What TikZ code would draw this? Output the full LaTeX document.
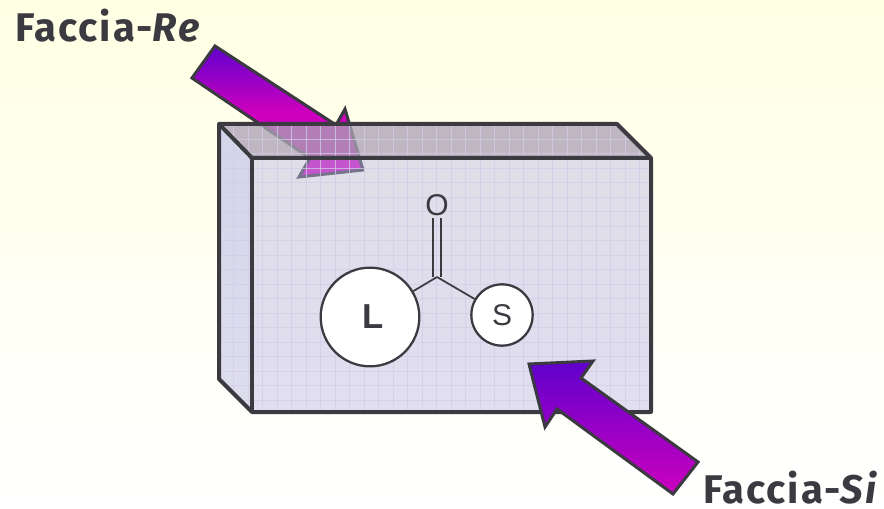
\documentclass[tikz,border=0pt]{standalone}
\usepackage{fontspec}
\setmainfont{Liberation Sans}
\newfontfamily\facefont[LetterSpace=5]{Fira Sans}
\usepackage{xcolor}
\usetikzlibrary{positioning}
\definecolor{inkdark}{RGB}{58,58,64}
\definecolor{gridlilac}{RGB}{209,205,232}
\definecolor{arrowtop}{RGB}{96,0,205}
\definecolor{arrowbottom}{RGB}{205,0,190}
\definecolor{paleyellow}{RGB}{255,255,228}
\definecolor{frontface}{RGB}{188,185,229}
\definecolor{topface}{RGB}{172,162,180}
\definecolor{lefttop}{RGB}{212,212,234}
\definecolor{leftbottom}{RGB}{222,222,238}
\tikzset{
  facearrow/.style={draw=inkdark,line width=2.25pt,line join=miter,top color=arrowtop,bottom color=arrowbottom},
  atomball/.style={circle,draw=inkdark,line width=1.7pt,fill=white,text=inkdark,inner sep=0pt},
  bond/.style={draw=inkdark,line width=1.3pt},
  gridline/.style={draw=gridlilac,draw opacity=0.75,line width=0.55pt},
  facelabel/.style={anchor=base west,inner sep=0pt,text=inkdark,font=\facefont\fontsize{30}{31}\selectfont\bfseries},
  boxedge/.style={draw=inkdark,line width=3pt,line join=round}
}
\begin{document}
\begin{tikzpicture}[x=0.75pt,y=-0.75pt]
\useasboundingbox (0,0) rectangle (884,509);
\shade[top color=paleyellow,bottom color=white] (0,0) rectangle (884,509);
% --- arrow behind the box ---
\path[facearrow,middle color=arrowbottom] (215,46)--(336,125)--(345,109)--(363,170)--(299,177)--(310,158)--(192,78)--cycle;
% --- box faces, see-through ---
\fill[frontface,fill opacity=0.46] (252,158) rectangle (651,412);
\fill[topface,fill opacity=0.78] (219,124)--(617,124)--(651,158)--(252,158)--cycle;
\shade[top color=lefttop,bottom color=leftbottom] (219,124)--(252,158)--(252,412)--(219,379)--cycle;
% --- grid paper on the faces ---
\begin{scope}
  \clip (219,124)--(617,124)--(651,158)--(651,412)--(252,412)--(219,379)--cycle;
  \foreach \k in {0,...,29}{
     \draw[gridline] ({233.5+14.5*\k},124)--({233.5+14.5*\k},412);}
  \foreach \k in {0,...,18}{
     \draw[gridline] (219,{139+14.5*\k})--(651,{139+14.5*\k});}
\end{scope}
% --- box edges ---
\draw[boxedge] (219,124)--(617,124)--(651,158)--(651,412)--(252,412)--(219,379)--cycle;
\draw[boxedge] (219,124)--(252,158)--(651,158);
\draw[boxedge] (252,158)--(252,412);
% --- carbonyl ---
\coordinate (carbon) at (437,277);
\node[text=inkdark,font=\fontsize{22.5}{24}\selectfont] (oxygen) at (437,205) {O};
\node[atomball,minimum size=74pt,font=\fontsize{26}{28}\selectfont\bfseries] (large) at (370,317) {\hspace{5pt}L};
\node[atomball,minimum size=46pt,font=\fontsize{22.5}{24}\selectfont] (small) at (502,315) {S};
\coordinate (bondlefttop) at (433,218);
\coordinate (bondrighttop) at (441,218);
\draw[bond] (bondlefttop)--(carbon -| bondlefttop);
\draw[bond] (bondrighttop)--(carbon -| bondrighttop);
\draw[bond] (carbon)--(large);
\draw[bond] (carbon)--(small);
% --- arrow in front ---
\path[facearrow] (698,462)--(581,378)--(593,361)--(529,364)--(545,427)--(557,409)--(673,494)--cycle;
% --- labels ---
\node[facelabel] (facere) at (15,42) {Faccia-\textit{Re}};
\node[facelabel] (facesi) at (703,503) {Faccia-\textit{Si}};
\end{tikzpicture}
\end{document}
